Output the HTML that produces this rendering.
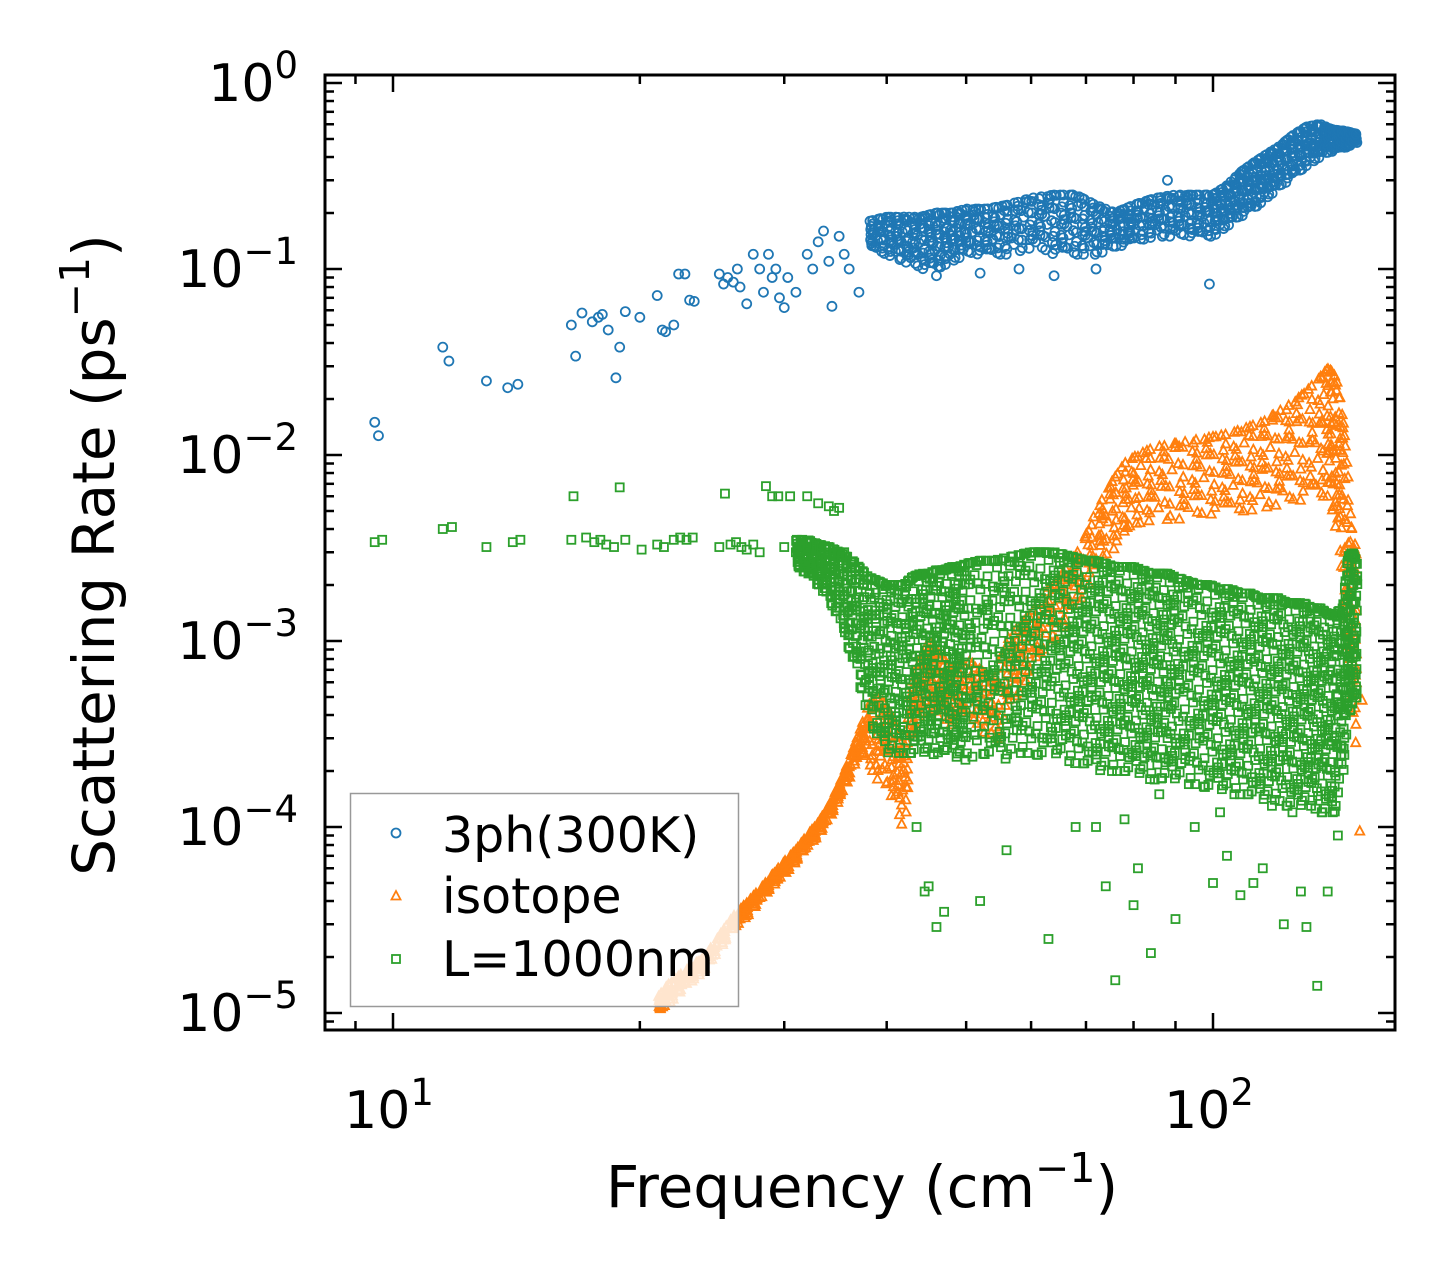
<!DOCTYPE html>
<html><head><meta charset="utf-8"><style>
body{margin:0;background:#fff;}
svg text{font-family:"DejaVu Sans","Liberation Sans",sans-serif;}
</style></head><body>
<svg id="chart" width="1455" height="1281" viewBox="0 0 1455 1281" xmlns="http://www.w3.org/2000/svg" style="position:absolute;left:0;top:0">
<rect x="0" y="0" width="1455" height="1281" fill="#fff"/>
<g id="marks"></g>
<g id="axes"></g>
</svg>
<script>
const xTickVals=[10,100];
const xTickLabels=["10","10"];
const xTickExps=["1","2"];
const yTickVals=[1,0.1,0.01,0.001,0.0001,0.00001];
const yTickLabels=["10","10","10","10","10","10"];
const yTickExps=["0","\u22121","\u22122","\u22123","\u22124","\u22125"];
const blueSparseF=[9.5,9.6,11.5,11.7,13,13.8,14.2,16.5,16.7,17,17.5,17.8,18,18.3,18.7,18.9,19.2,20,21,21.3,21.5,22,22.3,22.7,23,23.3,25,25.3,25.6,26,26.3,26.5,27,27.5,28,28.3,28.7,29,29.3,29.6,30,30.3,31,32,32.5,33,33.5,34,34.3,35,35.5,36,37,46,52,58,64,72,88,99];
const blueSparseR=[0.015,0.0127,0.038,0.032,0.025,0.023,0.024,0.05,0.034,0.058,0.052,0.055,0.057,0.047,0.026,0.038,0.059,0.055,0.072,0.047,0.046,0.05,0.094,0.094,0.068,0.067,0.094,0.083,0.09,0.085,0.1,0.08,0.065,0.12,0.1,0.075,0.12,0.09,0.1,0.07,0.062,0.09,0.075,0.12,0.1,0.14,0.16,0.11,0.063,0.15,0.12,0.1,0.075,0.092,0.095,0.1,0.092,0.1,0.3,0.083];
const blueF=[38,40,42,44,46,48,50,53,56,60,64,68,72,76,80,85,90,95,100,104,108,112,116,120,125,130,135,140,145,150];
const blueLo=[0.13,0.12,0.11,0.1,0.1,0.11,0.12,0.12,0.12,0.13,0.12,0.12,0.12,0.13,0.14,0.15,0.15,0.15,0.15,0.17,0.19,0.21,0.24,0.27,0.31,0.36,0.4,0.43,0.45,0.48];
const blueHi=[0.18,0.19,0.19,0.19,0.2,0.2,0.21,0.21,0.22,0.24,0.25,0.25,0.22,0.2,0.22,0.24,0.25,0.25,0.25,0.28,0.33,0.37,0.41,0.45,0.52,0.58,0.6,0.56,0.55,0.53];
const oraF=[21,21.6,22.4,23.2,24,25,26,27,28,29,30,31,32,33,34,35,36,37,38,39,40,41,42,43,44,45,46,47,48,50,52,54,56,58,60,63,66,69,72,75,78,81,85,90,95,100,105,110,115,120,125,130,135,138,140,142,144,146,148,150];
const oraLo=[1e-5,1.1e-5,1.3e-5,1.5e-5,1.7e-5,2.2e-5,2.8e-5,3.3e-5,4e-5,4.8e-5,5.5e-5,6.5e-5,7.8e-5,9e-5,1.1e-4,1.4e-4,1.8e-4,2.5e-4,2.2e-4,1.8e-4,1.7e-4,1.3e-4,9e-5,3e-4,4e-4,4.5e-4,4e-4,3.8e-4,3.5e-4,4e-4,3.5e-4,2.7e-4,4e-4,5e-4,7e-4,9e-4,1.2e-3,1.6e-3,2.5e-3,3e-3,3.5e-3,4.3e-3,4.5e-3,4.5e-3,4.6e-3,4.8e-3,5e-3,5e-3,5.2e-3,5.4e-3,5.5e-3,5.8e-3,6e-3,6e-3,5e-3,3.5e-3,2e-3,8e-4,4.5e-4,2.2e-4];
const oraHi=[1.2e-5,1.4e-5,1.6e-5,1.8e-5,2e-5,2.6e-5,3.3e-5,3.9e-5,4.6e-5,5.5e-5,6.5e-5,7.5e-5,9e-5,1.05e-4,1.3e-4,1.7e-4,2.3e-4,3.2e-4,4.5e-4,5e-4,4.5e-4,3.5e-4,2.5e-4,6e-4,8e-4,1e-3,9e-4,8e-4,7e-4,8e-4,7e-4,6e-4,1e-3,1.2e-3,1.4e-3,1.9e-3,2.4e-3,3.2e-3,5e-3,7e-3,9e-3,1e-2,1.1e-2,1.15e-2,1.2e-2,1.25e-2,1.3e-2,1.4e-2,1.5e-2,1.7e-2,1.9e-2,2.2e-2,2.6e-2,2.9e-2,2.8e-2,2.4e-2,1.6e-2,8e-3,3.3e-3,2.8e-3];
const oraSparseF=[151,152,149,147];
const oraSparseR=[9.5e-5,4.8e-4,3.3e-3,2.5e-3];
const grnSparseF=[9.5,9.7,11.5,11.8,13,14,14.3,16.5,16.6,17.2,17.6,17.9,18.2,18.6,18.9,19.2,20.1,21,21.4,22,22.4,22.8,23.2,25,25.4,25.8,26.2,26.6,27,27.5,28,28.5,29,29.5,30,30.5,31,32,33,34,34.5,35,35.5,43.5,44.5,45,46,47,52,56,63,68,72,74,76,78,80,81,84,86,90,95,100,102,104,108,112,115,118,122,125,128,130,134,138,140,142,145,146];
const grnSparseR=[3.4e-3,3.5e-3,4e-3,4.1e-3,3.2e-3,3.4e-3,3.5e-3,3.5e-3,6e-3,3.6e-3,3.4e-3,3.5e-3,3.3e-3,3.2e-3,6.7e-3,3.5e-3,3.1e-3,3.3e-3,3.2e-3,3.5e-3,3.6e-3,3.5e-3,3.6e-3,3.2e-3,6.2e-3,3.3e-3,3.4e-3,3.2e-3,3.1e-3,3.3e-3,3e-3,6.8e-3,6e-3,6e-3,3.2e-3,6e-3,3e-3,6e-3,5.5e-3,5.3e-3,5e-3,5.2e-3,3e-3,1e-4,4.5e-5,4.8e-5,2.9e-5,3.5e-5,4e-5,7.5e-5,2.5e-5,1e-4,1e-4,4.8e-5,1.5e-5,1.1e-4,3.8e-5,6e-5,2.1e-5,1.5e-4,3.2e-5,1e-4,5e-5,1.2e-4,7e-5,4.3e-5,5e-5,6e-5,1.3e-4,3e-5,1.2e-4,4.5e-5,2.9e-5,1.4e-5,4.5e-5,1.2e-4,9e-5,5e-4,4.8e-4];
const grnF=[31,32,33,34,35,36,37,38,39,40,41,42,43,44,45,46,47,48,49,50,52,54,56,58,60,62,64,66,68,70,72,74,76,78,80,82,84,86,88,90,93,96,99,102,105,108,111,114,117,120,123,126,129,132,135,138,141,144,146,148,150];
const grnLo=[2.5e-3,2.3e-3,2e-3,1.7e-3,1.3e-3,9e-4,6e-4,4e-4,3e-4,2.5e-4,2.5e-4,2.5e-4,2.5e-4,2.6e-4,2.4e-4,2.5e-4,2.6e-4,2.5e-4,2.3e-4,2.3e-4,2.5e-4,2.4e-4,2.3e-4,2.5e-4,2.5e-4,2.4e-4,2.5e-4,2.3e-4,2.2e-4,2.2e-4,2e-4,2e-4,2e-4,2e-4,2e-4,1.9e-4,1.8e-4,1.8e-4,1.9e-4,1.8e-4,1.7e-4,1.7e-4,1.6e-4,1.6e-4,1.5e-4,1.5e-4,1.5e-4,1.4e-4,1.4e-4,1.4e-4,1.3e-4,1.3e-4,1.3e-4,1.3e-4,1.2e-4,1.2e-4,1.2e-4,1.8e-4,4e-4,4.5e-4,4.5e-4];
const grnHi=[3.5e-3,3.5e-3,3.3e-3,3.2e-3,3e-3,2.8e-3,2.5e-3,2.2e-3,2.1e-3,2e-3,2e-3,2e-3,2.2e-3,2.3e-3,2.3e-3,2.4e-3,2.4e-3,2.5e-3,2.5e-3,2.6e-3,2.7e-3,2.7e-3,2.8e-3,2.9e-3,3e-3,3e-3,3e-3,2.9e-3,2.8e-3,2.7e-3,2.7e-3,2.6e-3,2.5e-3,2.5e-3,2.5e-3,2.4e-3,2.3e-3,2.3e-3,2.3e-3,2.2e-3,2.1e-3,2e-3,2e-3,1.9e-3,1.9e-3,1.8e-3,1.8e-3,1.7e-3,1.7e-3,1.7e-3,1.6e-3,1.6e-3,1.6e-3,1.5e-3,1.5e-3,1.4e-3,1.4e-3,1.5e-3,2.8e-3,3e-3,2.6e-3];

const X0=393,XD=820,Y0=83,YD=186;
function xs(f){return X0+XD*(Math.log10(f)-1);}
function ys(r){return Y0-YD*Math.log10(r);}
const NS="http://www.w3.org/2000/svg";
const marks=document.getElementById('marks');
const axes=document.getElementById('axes');
function mk(tag,attrs,parent){const e=document.createElementNS(NS,tag);for(const k in attrs)e.setAttribute(k,attrs[k]);parent.appendChild(e);return e;}
function ok(v){return typeof v==='number'&&isFinite(v)&&v>0;}
function circ(f,r,g){if(!ok(f)||!ok(r))return;const e=mk('circle',{cx:xs(f),cy:ys(r),r:4.5,fill:'none',stroke:'#1f77b4','stroke-width':1.8},g);

}
function tri(f,r,g){if(!ok(f)||!ok(r))return;const x=xs(f),y=ys(r);const e=mk('polygon',{points:`${x},${y-5} ${x-4.5},${y+3.5} ${x+4.5},${y+3.5}`,fill:'none',stroke:'#ff7f0e','stroke-width':1.8},g);

}
function sq(f,r,g){if(!ok(f)||!ok(r))return;const x=xs(f),y=ys(r);const e=mk('rect',{x:x-4,y:y-4,width:8,height:8,fill:'none',stroke:'#2ca02c','stroke-width':1.8},g);

}

const gB=mk('g',{},marks);
const gO=mk('g',{},marks);
const gG=mk('g',{},marks);
const dither=[0,0.43,0.17,0.71,0.29,0.86,0.57,0.14,0.64,0.36,0.93,0.07,0.5,0.79,0.21,0.6,0.33];
function fillBand(F,lo,hi,fn,g,levels,sub){
 let c=0;
 for(let i=0;i+1<F.length;i++){
  for(let s=0;s<sub;s++){
   for(let k=0;k<=levels;k++){
    c++;
    const u=(s+dither[(c*5)%17])/sub;
    const f=F[i]*Math.pow(F[i+1]/F[i],u);
    const a=lo[i]*Math.pow(lo[i+1]/lo[i],u), b=hi[i]*Math.pow(hi[i+1]/hi[i],u);
    const t=Math.min(1,(k+1.6*dither[(c*7+3)%17]-0.3)/levels);
    fn(f,a*Math.pow(b/a,Math.max(0,t)),g);
   }}}}
function sparse(F,R,fn,g){for(let i=0;i<F.length;i++)fn(F[i],R[i],g);}
sparse(blueSparseF,blueSparseR,circ,gB);
fillBand(blueF,blueLo,blueHi,circ,gB,6,5);
sparse(oraSparseF,oraSparseR,tri,gO);
fillBand(oraF,oraLo,oraHi,tri,gO,6,3);
sparse(grnSparseF,grnSparseR,sq,gG);
fillBand(grnF,grnLo,grnHi,sq,gG,9,4);

const L=325,R=1395,T=75,B=1030;
mk('rect',{x:L,y:T,width:R-L,height:B-T,fill:'none',stroke:'#000','stroke-width':3},axes);
for(let d=0;d<3;d++){for(let m=1;m<10;m++){const v=Math.pow(10,d)*m;const x=xs(v);if(x<L+1||x>R-1)continue;const len=(m===1)?17:9;
 mk('line',{x1:x,y1:B,x2:x,y2:B-len,stroke:'#000','stroke-width':2.5},axes);
 mk('line',{x1:x,y1:T,x2:x,y2:T+len,stroke:'#000','stroke-width':2.5},axes);}}
for(let e=-6;e<=0;e++){for(let m=1;m<10;m++){const v=m*Math.pow(10,e);const y=ys(v);if(y<T+1||y>B-1)continue;const len=(m===1)?17:9;
 mk('line',{x1:L,y1:y,x2:L+len,y2:y,stroke:'#000','stroke-width':2.5},axes);
 mk('line',{x1:R,y1:y,x2:R-len,y2:y,stroke:'#000','stroke-width':2.5},axes);}}
xTickVals.forEach((v,i)=>{const t=mk('text',{x:xs(v)-4,y:1128,'font-size':52,'text-anchor':'middle'},axes);
 
 t.textContent=xTickLabels[i];const s=mk('tspan',{'font-size':37,dy:-23},t);s.textContent=xTickExps[i];});
yTickVals.forEach((v,i)=>{const t=mk('text',{x:298,y:ys(v)+18,'font-size':52,'text-anchor':'end'},axes);
 
 t.textContent=yTickLabels[i];const s=mk('tspan',{'font-size':37,dy:-23},t);s.textContent=yTickExps[i];});
</script>
<svg style="position:absolute;left:0;top:0" width="1455" height="1281">
<text x="862" y="1207" font-size="58" text-anchor="middle" font-family="DejaVu Sans, Liberation Sans, sans-serif">Frequency (cm<tspan font-size="41" dy="-25">−1</tspan><tspan dy="25">)</tspan></text>
<text transform="translate(114,555) rotate(-90)" font-size="58" text-anchor="middle" font-family="DejaVu Sans, Liberation Sans, sans-serif">Scattering Rate (ps<tspan font-size="41" dy="-25">−1</tspan><tspan dy="25">)</tspan></text>
<g>
<rect x="350.5" y="793.5" width="388" height="213" fill="#fff" fill-opacity="0.8" stroke="#999" stroke-width="1.5"/>
<circle cx="396" cy="833" r="4.5" fill="none" stroke="#1f77b4" stroke-width="1.8"/>
<polygon points="396,891 391.5,899.5 400.5,899.5" fill="none" stroke="#ff7f0e" stroke-width="1.8"/>
<rect x="392" y="955" width="8" height="8" fill="none" stroke="#2ca02c" stroke-width="1.8"/>
<text x="442" y="852" font-size="49" font-family="DejaVu Sans, Liberation Sans, sans-serif">3ph(300K)</text>
<text x="442" y="913" font-size="49" font-family="DejaVu Sans, Liberation Sans, sans-serif">isotope</text>
<text x="442" y="976" font-size="49" font-family="DejaVu Sans, Liberation Sans, sans-serif">L=1000nm</text>
</g>
</svg>
</body></html>
